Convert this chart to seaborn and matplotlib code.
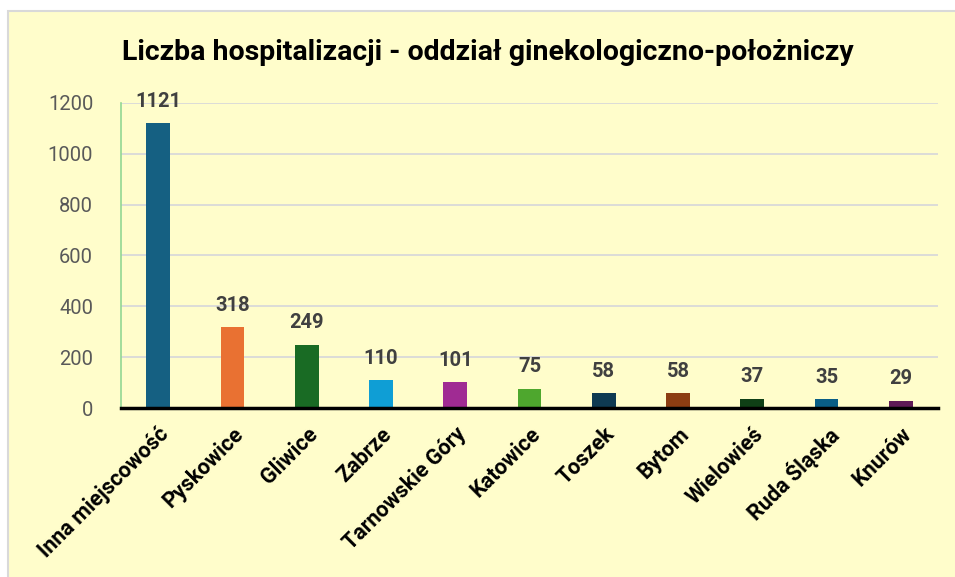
import matplotlib.pyplot as plt
import seaborn as sns
import pandas as pd
from matplotlib.patches import Rectangle

# data
cities = ["Inna miejscowość", "Pyskowice", "Gliwice", "Zabrze", "Tarnowskie Góry",
          "Katowice", "Toszek", "Bytom", "Wielowieś", "Ruda Śląska", "Knurów"]
counts = [1121, 318, 249, 110, 101, 75, 58, 58, 37, 35, 29]
bar_colors = ["#156082", "#E97132", "#196B24", "#0F9ED5", "#A02B93", "#4EA72E",
              "#0E3A52", "#8C3D12", "#0F4016", "#095E86", "#5F1A57"]
title = "Liczba hospitalizacji - oddział ginekologiczno-położniczy"

bg = "#FFFDCB"
df = pd.DataFrame({"miasto": cities, "liczba": counts})

sns.set_theme(style="white")
plt.rcParams["font.family"] = ["Roboto", "DejaVu Sans"]

fig = plt.figure(figsize=(9.55, 5.77), dpi=100, facecolor="white")
# chart frame (extends past the right/bottom edges like the screenshot)
fig.patches.append(Rectangle((8 / 955, -0.01), 1.0, 1 - 11 / 577 + 0.01,
                             transform=fig.transFigure, facecolor=bg,
                             edgecolor="#D9D9D9", linewidth=1.5, zorder=-1))

ax = fig.add_axes([121 / 955, 1 - 408 / 577, (938 - 121) / 955, (408 - 103) / 577])
ax.set_zorder(2)
ax.set_facecolor(bg)

sns.barplot(data=df, x="miasto", y="liczba", hue="miasto", palette=bar_colors,
            saturation=1, linewidth=0, legend=False, width=0.32, ax=ax, zorder=3)

for c in ax.containers:
    ax.bar_label(c, padding=9, fontsize=14.5, fontweight="bold", color="#404040")

ax.set_ylim(0, 1200)
ax.set_yticks(range(0, 1201, 200))
ax.set_xlim(-0.5, len(cities) - 0.5)
ax.yaxis.grid(True, color="#D9D9D9", linewidth=1.3, zorder=0)
ax.set_axisbelow(True)
ax.set_xlabel("")
ax.set_ylabel("")

for s in ["top", "right"]:
    ax.spines[s].set_visible(False)
ax.spines["left"].set_color("#92D793")
ax.spines["left"].set_linewidth(1.2)
ax.spines["bottom"].set_color("black")
ax.spines["bottom"].set_linewidth(2.5)
ax.spines["bottom"].set_zorder(5)

ax.tick_params(axis="y", labelsize=14.5, labelcolor="#595959", length=0, pad=20)
ax.tick_params(axis="x", length=0, pad=11)
for lbl in ax.get_xticklabels():
    lbl.set_rotation(45)
    lbl.set_ha("right")
    lbl.set_rotation_mode("anchor")
    lbl.set_fontsize(15.5)
    lbl.set_fontweight("bold")
    lbl.set_color("black")

fig.text(488 / 955, 1 - 53 / 577, title, ha="center", va="center",
         fontsize=20.5, fontweight="bold", color="black")

fig.savefig("out.png", dpi=100, facecolor="white")
